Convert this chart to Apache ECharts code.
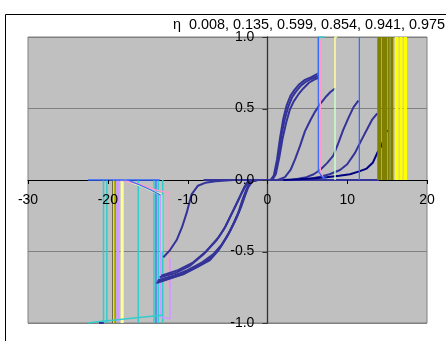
<!DOCTYPE html>
<html>
<head>
<meta charset="utf-8">
<script src="https://cdn.jsdelivr.net/npm/echarts@6/dist/echarts.min.js"></script>
<style>
  html, body { margin: 0; padding: 0; background: #fff; }
  #chart { width: 446px; height: 341px; }
</style>
</head>
<body>
<div id="chart"></div>
<script>
// Hysteresis loops for several packing fractions (eta)
const etaValues = ['0.008', '0.135', '0.599', '0.854', '0.941', '0.975'];
const xRange = [-30, 20];
const yRange = [-1, 1];
const xTicks = [-30, -20, -10, 0, 10, 20];
const yTicks = [-1, -0.5, 0, 0.5, 1];

// --- rising branches (positive field) ---
const riseA1 = [[0.4,0],[0.8,0.03],[1.2,0.14],[1.6,0.3],[2.0,0.43],[2.4,0.52],[2.9,0.59],[3.4,0.63],[4.0,0.67],[4.7,0.7],[5.5,0.72],[6.38,0.745]];
const riseA2 = [[0.5,0],[0.95,0.04],[1.35,0.16],[1.75,0.31],[2.15,0.42],[2.6,0.51],[3.1,0.58],[3.6,0.62],[4.2,0.66],[4.9,0.69],[5.6,0.71],[6.38,0.73]];
const riseA3 = [[0.6,0],[1.05,0.04],[1.5,0.16],[1.9,0.29],[2.35,0.4],[2.8,0.49],[3.3,0.55],[3.9,0.6],[4.5,0.64],[5.2,0.68],[5.8,0.7],[6.38,0.715]];
const riseB = [[1.3,0],[2.2,0.02],[2.9,0.07],[3.5,0.15],[4.1,0.24],[4.7,0.34],[5.4,0.42],[6.0,0.48],[6.6,0.53],[7.3,0.58],[7.9,0.615],[8.47,0.64]];
const riseC = [[3.0,0],[4.0,0.01],[4.9,0.02],[5.8,0.04],[6.6,0.07],[7.5,0.12],[8.26,0.17],[8.9,0.26],[9.5,0.35],[10.2,0.44],[10.8,0.51],[11.4,0.555]];
const riseD = [[4.5,0],[5.5,0.01],[6.6,0.023],[7.8,0.04],[9.1,0.07],[10.0,0.11],[10.98,0.19],[11.7,0.27],[12.44,0.35],[13.1,0.42],[13.77,0.466]];
const riseE = [[2.0,0],[4.0,0.005],[6.0,0.012],[7.4,0.02],[9.0,0.03],[10.35,0.04],[11.5,0.06],[12.44,0.08],[13.2,0.12],[13.77,0.19],[14.3,0.24],[15.0,0.35]];
const baseline = [[-8,0],[0,0],[14,0]];

// --- falling branches (negative field) ---
const fallF = [[-13.04,-0.54],[-12.2,-0.49],[-11.37,-0.42],[-10.7,-0.33],[-10.12,-0.23],[-9.5,-0.1],[-8.7,-0.04],[-7.8,-0.02],[-6.5,-0.008],[-4.3,0],[0,0]];
const fallG1 = [[-13.9,-0.72],[-12.2,-0.69],[-10.55,-0.66],[-8.8,-0.61],[-7.2,-0.56],[-6.1,-0.49],[-5.1,-0.4],[-4.3,-0.31],[-3.65,-0.23],[-3.2,-0.15],[-2.8,-0.09],[-2.18,-0.01],[-1.5,0]];
const fallG2 = [[-13.8,-0.71],[-12.0,-0.68],[-10.3,-0.645],[-8.6,-0.6],[-7.0,-0.54],[-5.9,-0.47],[-4.9,-0.38],[-4.1,-0.29],[-3.5,-0.21],[-3.0,-0.13],[-2.6,-0.07],[-2.0,-0.01],[-1.3,0]];
const fallG3 = [[-13.7,-0.7],[-11.8,-0.67],[-10.0,-0.63],[-8.3,-0.58],[-6.8,-0.52],[-5.7,-0.45],[-4.7,-0.36],[-3.9,-0.27],[-3.3,-0.19],[-2.8,-0.11],[-2.4,-0.05],[-1.9,-0.01],[-1.2,0]];
const fallG4 = [[-13.5,-0.68],[-11.5,-0.65],[-9.7,-0.6],[-8.0,-0.52],[-6.35,-0.42],[-5.4,-0.34],[-4.7,-0.26],[-4.0,-0.18],[-3.4,-0.11],[-2.9,-0.05],[-2.5,-0.015],[-1.8,0]];
const fallG5 = [[-13.3,-0.67],[-11.2,-0.63],[-9.4,-0.58],[-7.7,-0.5],[-6.1,-0.4],[-5.2,-0.32],[-4.5,-0.24],[-3.8,-0.16],[-3.2,-0.09],[-2.7,-0.04],[-2.3,-0.01],[-1.6,0]];

// --- switching steps ---
const stepBlue1 = [[6.38,1.0],[6.38,0.06],[6.9,0.02],[7.4,0.01]];
const stepPink1 = [[6.62,0.98],[6.62,0.05],[7.0,0.02]];
const stepCyan1 = [[6.38,0.73],[6.38,1.0],[7.2,1.0]];
const stepLtYellow1 = [[8.47,0.64],[8.47,1.0],[8.75,1.0]];
const stepLtGreen1 = [[8.47,0.64],[8.47,0.0]];
const stepBlue2 = [[11.52,0.0],[11.52,1.0]];
// dense clusters of steps, as [from, to] field spans
const oliveBands = [[13.77,14.28],[14.36,15.0],[15.07,15.33],[15.4,15.78]];
const yellowBands = [[15.96,16.45],[16.55,16.95],[17.05,17.5]];

const cyanDrops = [-20.54, -20.12, -16.18, -14.21, -13.67, -13.12];
const blueDrops = [-13.96];
const ltYellowDrops = [-18.2];
const lavenderDrops = [-18.75];
const oliveDrops = [-19.24];
const yellowDrops = [-19.24];

const topBlue = [[-22.5,0],[-13.5,0]];
const topLtGreen = [[-18.3,0],[-17,-0.02],[-15.5,-0.05],[-14.2,-0.085],[-13.25,-0.105],[-13.25,-0.5]];
const topLtYellow = [[-18.0,0],[-16.8,-0.02],[-15.3,-0.05],[-14.0,-0.085],[-13.3,-0.1]];
const topPink = [[-18.5,0],[-16,-0.03],[-14,-0.07],[-12.3,-0.09],[-12.3,-0.75]];
const topBlueCurve = [[-17.5,0],[-16.0,-0.035],[-14.6,-0.07],[-13.4,-0.105]];
const lavenderRight = [[-13.37,-0.1],[-13.37,-0.96],[-12.2,-0.97],[-12.2,-0.55]];
const bottomCyan = [[-22.5,-1],[-21,-0.99],[-13.25,-0.945]];
const bottomNavy = [[-21.1,-1],[-20.5,-1]];

function line(data, color, width, z) {
  return {
    type: 'line', data: data, showSymbol: false, silent: true,
    animation: false, z: z || 2,
    lineStyle: { color: color, width: width || 1 },
    itemStyle: { color: color }
  };
}
function verticals(xs, y0, y1, color, width, z) {
  return xs.map(x => line([[x, y0], [x, y1]], color, width, z));
}
// a run of closely spaced steps filling [from, to] up to full saturation
function bands(spans, color) {
  return {
    type: 'custom', silent: true, animation: false, z: 5,
    data: spans,
    renderItem: function (params, api) {
      const a = api.coord([api.value(0), 1]);
      const b = api.coord([api.value(1), 0]);
      return {
        type: 'rect',
        shape: { x: a[0], y: a[1], width: b[0] - a[0], height: b[1] - a[1] },
        style: { fill: color }
      };
    }
  };
}

const NAVY = '#333399';
const series = [].concat(
  verticals(cyanDrops, 0, -1, '#33CCCC', 1.5),
  verticals(lavenderDrops, 0, -0.99, '#CC99FF', 3),
  verticals(ltYellowDrops, 0, -1, '#FFFF99', 3),
  verticals(oliveDrops, 0, -1, '#404000', 3),
  verticals(yellowDrops, 0, -1, '#FFFF00', 1.5),
  verticals(blueDrops, 0, -1, '#3366FF', 1.2),
  [
    line(topLtGreen, '#CCFFCC', 1.5),
    line(topLtYellow, '#FFFF99', 1.5),
    line(topPink, '#FF99CC', 1.5),
    line(lavenderRight, '#CC99FF', 1.5),
    line(topBlueCurve, '#3366FF', 1.2),
    line(topBlue, '#3366FF', 1.5),
    line(bottomCyan, '#33CCCC', 1.5),
    line(bottomNavy, NAVY, 2),
    line(fallF, NAVY, 2, 3),
    line(fallG1, NAVY, 2, 3),
    line(fallG2, NAVY, 2, 3),
    line(fallG3, NAVY, 2, 3),
    line(fallG4, NAVY, 2, 3),
    line(fallG5, NAVY, 2, 3),
    line(baseline, NAVY, 2, 3),
    line(riseA1, NAVY, 2, 3),
    line(riseA2, NAVY, 2, 3),
    line(riseA3, NAVY, 2, 3),
    line(riseB, NAVY, 2, 3),
    line(riseC, NAVY, 2, 3),
    line(riseD, NAVY, 2, 3),
    line(riseE, '#000080', 2, 3),
    line(stepCyan1, '#33CCCC', 1.5, 4),
    line(stepPink1, '#FF99CC', 1.5, 4),
    line(stepBlue1, '#3366FF', 1.2, 4),
    line(stepLtGreen1, '#CCFFCC', 1.5, 4),
    line(stepLtYellow1, '#FFFF99', 1.5, 4),
    line(stepBlue2, '#3366FF', 1.2, 4),
    bands(oliveBands, '#808000'),
    bands(yellowBands, '#FFFF00')
  ]
);

const chart = echarts.init(document.getElementById('chart'), null, { renderer: 'canvas' });
chart.setOption({
  animation: false,
  backgroundColor: '#FFFFFF',
  grid: {
    left: 28, top: 37, right: 19, bottom: 18,
    show: true, backgroundColor: '#C0C0C0',
    borderColor: '#808080', borderWidth: 1
  },
  xAxis: {
    type: 'value', min: xRange[0], max: xRange[1], interval: 10,
    axisLine: { onZero: true, lineStyle: { color: '#000', width: 1 } },
    axisTick: { show: false },
    axisLabel: { show: false },
    splitLine: { show: false }
  },
  yAxis: {
    type: 'value', min: yRange[0], max: yRange[1], interval: 0.5,
    axisLine: { onZero: true, lineStyle: { color: '#333', width: 1.3 } },
    axisTick: { show: false },
    axisLabel: { show: false },
    splitLine: { show: true, lineStyle: { color: '#808080', width: 1 } }
  },
  series: series
});

// Tick marks and labels sit on the zero lines, so place them from the axis scales.
const font = '14px "Liberation Sans"';
const extras = [
  {
    type: 'rect', left: 3, top: 12, silent: true,
    shape: { x: 0.5, y: 0.5, width: 460, height: 360 },
    style: { fill: 'none', stroke: '#000', lineWidth: 1 }
  },
  {
    type: 'text', right: 1, top: 18, silent: true,
    style: { text: 'η  ' + etaValues.join(', '), font: '14.4px "Liberation Sans"', fill: '#000' }
  }
];
xTicks.forEach(v => {
  const p = chart.convertToPixel({ gridIndex: 0 }, [v, 0]);
  const px = Math.round(p[0]) + 0.5;
  extras.push({
    type: 'line', silent: true, z: 10,
    shape: { x1: px, y1: p[1], x2: px, y2: p[1] + 4 },
    style: { stroke: '#000', lineWidth: 1 }
  });
  extras.push({
    type: 'text', silent: true, z: 10, x: p[0], y: p[1] + 13,
    style: { text: String(v), font: font, fill: '#000', align: 'center', verticalAlign: 'top' }
  });
});
yTicks.forEach(v => {
  const p = chart.convertToPixel({ gridIndex: 0 }, [0, v]);
  const py = Math.round(p[1]) + 0.5;
  extras.push({
    type: 'line', silent: true, z: 10,
    shape: { x1: p[0] - 5, y1: py, x2: p[0], y2: py },
    style: { stroke: '#333', lineWidth: 1 }
  });
  extras.push({
    type: 'text', silent: true, z: 10, x: p[0] - 13, y: p[1],
    style: { text: v.toFixed(1), font: font, fill: '#000', align: 'right', verticalAlign: 'middle' }
  });
});
chart.setOption({ graphic: extras });
</script>
</body>
</html>
